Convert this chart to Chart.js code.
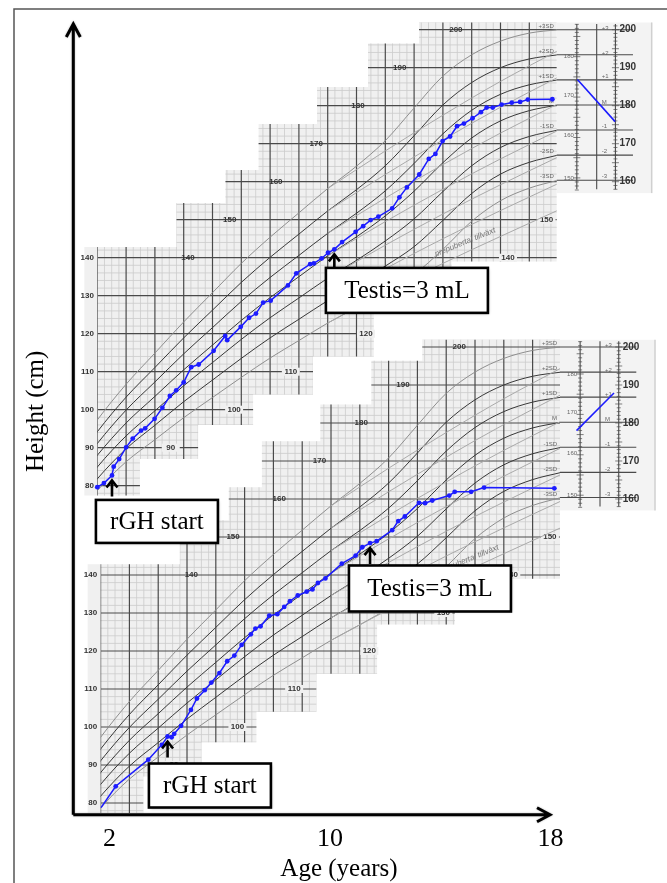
<!DOCTYPE html>
<html>
<head>
<meta charset="utf-8">
<script src="https://cdn.jsdelivr.net/npm/chart.js@4.4.1/dist/chart.umd.min.js"></script>
<style>
  html, body { margin: 0; padding: 0; background: #fff; }
  canvas { display: block; }
</style>
</head>
<body>
<canvas id="growth" width="667" height="883"></canvas>
<script>
// patient 1 (upper chart): age in years, height in cm
const upperAge = [2.00, 2.23, 2.51, 2.57, 2.76, 3.00, 3.23, 3.52, 3.66, 3.99, 4.26, 4.52, 4.74, 5.00, 5.26, 5.52,
  6.04, 6.44, 6.51, 6.98, 7.27, 7.51, 7.76, 8.02, 8.62, 8.91, 9.39, 9.52, 9.79, 10.01, 10.23, 10.50, 10.97,
  11.23, 11.49, 11.76, 12.24, 12.49, 12.75, 13.18, 13.51, 13.74, 13.99, 14.25, 14.49, 14.73, 15.03, 15.32,
  15.52, 15.73, 16.04, 16.39, 16.68, 16.95, 17.80];
const upperHeight = [79.6, 80.7, 82.7, 85.0, 87.0, 90.1, 92.4, 94.5, 95.1, 97.6, 100.5, 103.6, 105.1, 107.2, 111.2, 111.9,
  115.5, 119.4, 118.3, 121.8, 124.2, 125.3, 128.2, 128.7, 132.7, 135.9, 138.3, 138.5, 139.8, 141.3, 142.2, 144.1, 146.8,
  148.3, 149.9, 150.8, 153.0, 155.9, 158.5, 161.9, 166.0, 167.3, 170.7, 171.9, 174.6, 175.3, 176.7, 178.3,
  179.5, 179.5, 180.3, 180.8, 181.0, 181.6, 181.7];

// patient 2 (lower chart)
const lowerAge = [2.13, 2.64, 3.77, 4.24, 4.44, 4.58, 4.67, 4.91, 5.25, 5.46, 5.73, 5.96, 6.24, 6.51, 6.76, 7.01,
  7.33, 7.49, 7.67, 7.97, 8.25, 8.49, 8.69, 8.96, 9.27, 9.47, 9.66, 9.92, 10.49, 10.97, 11.20, 11.47, 11.70,
  12.24, 12.45, 12.68, 13.17, 13.38, 13.63, 14.22, 14.41, 14.98, 15.43, 17.87];
const lowerHeight = [78.8, 84.4, 91.4, 95.3, 97.5, 97.3, 98.2, 100.3, 104.5, 107.5, 109.7, 111.7, 114.2, 117.3, 118.8, 121.6,
  124.4, 125.9, 126.5, 129.3, 129.7, 131.6, 133.1, 134.6, 135.6, 136.2, 137.9, 139.1, 143.0, 145.1, 147.3, 148.4, 148.9,
  151.8, 154.2, 155.4, 159.0, 158.9, 159.6, 160.9, 161.9, 161.9, 163.0, 162.8];

// parental target lines in the side panels
const upperTargetAge = [18.67, 19.98];
const upperTargetHeight = [186.9, 175.8];
const lowerTargetAge = [18.64, 19.94];
const lowerTargetHeight = [178.0, 187.9];

// reference curves printed on the chart paper
const curveAge = [1.5, 2, 3, 4, 5, 6, 7, 8, 9, 10, 11, 12, 13, 14, 15, 16, 17, 18];
const sdPlus3  = [92.0, 97.3, 106.7, 114.9, 123.1, 130.8, 138.5, 145.4, 151.8, 158.2, 164.1, 170.8, 179.4, 187.8, 193.4, 197.0, 199.1, 200.0];
const sdPlus2  = [89.0, 94.2, 103.3, 111.1, 118.9, 126.2, 133.5, 140.1, 146.2, 152.3, 157.9, 164.2, 172.1, 180.2, 186.1, 190.0, 192.3, 193.4];
const sdPlus1  = [86.0, 91.1, 99.9, 107.3, 114.7, 121.6, 128.5, 134.8, 140.6, 146.4, 151.7, 157.6, 164.8, 172.6, 178.8, 183.0, 185.5, 186.8];
const sdMean   = [83.0, 88.0, 96.5, 103.5, 110.5, 117.0, 123.5, 129.5, 135.0, 140.5, 145.5, 151.0, 157.5, 165.0, 171.5, 176.0, 178.7, 180.2];
const sdMinus1 = [80.0, 84.9, 93.1, 99.7, 106.3, 112.4, 118.5, 124.2, 129.4, 134.6, 139.3, 144.4, 150.2, 157.4, 164.2, 169.0, 171.9, 173.6];
const sdMinus2 = [77.0, 81.8, 89.7, 95.9, 102.1, 107.8, 113.5, 118.9, 123.8, 128.7, 133.1, 137.8, 142.9, 149.8, 156.9, 162.0, 165.1, 167.0];
const sdMinus3 = [74.0, 78.7, 86.3, 92.1, 97.9, 103.2, 108.5, 113.6, 118.2, 122.8, 126.9, 131.2, 135.6, 142.2, 149.6, 155.0, 158.3, 160.4];
const sdLabels = ['+3SD', '+2SD', '+1SD', 'M', '-1SD', '-2SD', '-3SD'];

// prepubertal growth lines (light grey)
const preAge = [10, 12, 14, 16, 18];
const prePlus3  = [158.2, 168.1, 177.5, 186.4, 194.5];
const prePlus2  = [152.3, 161.9, 171.0, 179.6, 187.5];
const prePlus1  = [146.4, 155.7, 164.5, 172.8, 180.5];
const preMean   = [140.5, 149.5, 158.0, 166.0, 173.5];
const preMinus1 = [134.6, 143.3, 151.5, 159.2, 166.5];
const preMinus2 = [128.7, 137.1, 145.0, 152.4, 159.5];
const preMinus3 = [122.8, 130.9, 138.5, 145.6, 152.5];

// staircase outline of the chart paper (age, cm)
const sheetAge = [1.55, 1.55, 4.75, 4.75, 6.45, 6.45, 7.6, 7.6, 9.63, 9.63, 11.4, 11.4, 13.17, 13.17,
  17.95, 17.95, 14.3, 14.3, 11.6, 11.6, 9.49, 9.49, 7.41, 7.41, 5.5, 5.5, 3.48, 3.48];
const sheetHeight = [77.4, 142.8, 142.8, 154.4, 154.4, 163.1, 163.1, 175.2, 175.2, 184.9, 184.9, 196.4, 196.4, 201.9,
  201.9, 139, 139, 127, 127, 114, 114, 104, 104, 96, 96, 87, 87, 77.4];

// printed height labels on the paper
const leftLabels = [80, 90, 100, 110, 120, 130, 140];
const innerLabels = [140, 150, 160, 170, 180, 190, 200];
const innerLabelAge = [5.15, 6.6, 8.2, 9.6, 11.05, 12.5, 14.45];
const endLabels = [90, 100, 110, 120, 130, 140, 150];
const endLabelAge = [4.55, 6.75, 8.72, 11.33, 13.9, 16.26, 17.6];
const rightRulerLabels = [200, 190, 180, 170, 160];
const leftRulerLabels = [180, 170, 160, 150];
const leftRulerHeight = [192.9, 182.8, 172.1, 161.0];
const midLabels = ['+3', '+2', '+1', 'M', '-1', '-2', '-3'];
const midLabelHeight = [200.4, 193.8, 187.6, 180.9, 174.5, 167.9, 161.3];

const xTickLabels = [2, 10, 18];

// the lower chart is the same paper pasted lower down
const SHEETS = [{ dAge: 0, dH: 0 }, { dAge: 0.115, dH: -83.5 }];
const panelAge = [17.95, 21.25];
const panelH = [157, 201.9];
const rulerAge = [18.65, 19.34, 19.99];
const axisEndAge = 17.72;

const BLUE = '#1c1cff';
const PAPER = '#f0f0f0';
const MINOR = '#cbcbcb';
const MAJOR = '#4a4a4a';
const SERIF = '"Liberation Serif", "Times New Roman", serif';
const SANS = '"Liberation Sans", Arial, sans-serif';

const notes = [
  { series: 0, at: 2, text: 'rGH start', sheet: 0, boxAge: 4.07, boxH: 70.6, w: 122, h: 43 },
  { series: 0, at: 30, text: 'Testis=3 mL', sheet: 0, boxAge: 12.75, boxH: 131.4, w: 162, h: 45 },
  { series: 1, at: 4, text: 'rGH start', sheet: 1, boxAge: 5.91, boxH: 84.6, w: 122, h: 44 },
  { series: 1, at: 31, text: 'Testis=3 mL', sheet: 1, boxAge: 13.55, boxH: 136.45, w: 162, h: 46 },
];

function sheetPx(chart, s, age, h) {
  return [chart.scales.x.getPixelForValue(age + SHEETS[s].dAge),
          chart.scales.y.getPixelForValue(h + SHEETS[s].dH)];
}

function outline(chart, s, minAge) {
  const ctx = chart.ctx;
  ctx.beginPath();
  sheetAge.forEach((a, i) => {
    const p = sheetPx(chart, s, Math.max(a, minAge), sheetHeight[i]);
    if (i) ctx.lineTo(p[0], p[1]); else ctx.moveTo(p[0], p[1]);
  });
  ctx.closePath();
}

function drawSheet(chart, s) {
  const ctx = chart.ctx;
  const P = (a, h) => sheetPx(chart, s, a, h);
  const seg = (a0, h0, a1, h1) => {
    const p = P(a0, h0), q = P(a1, h1);
    ctx.moveTo(p[0], p[1]); ctx.lineTo(q[0], q[1]);
  };
  ctx.save();
  ctx.fillStyle = PAPER;
  outline(chart, s, 0);
  ctx.fill();
  const pa = P(panelAge[0], panelH[1]), pb = P(panelAge[1], panelH[0]);
  ctx.fillStyle = '#f3f3f3';
  ctx.fillRect(pa[0], pa[1], pb[0] - pa[0], pb[1] - pa[1]);
  ctx.strokeStyle = '#d0d0d0';
  ctx.lineWidth = 1.5;
  ctx.beginPath(); ctx.moveTo(pb[0], pa[1]); ctx.lineTo(pb[0], pb[1]); ctx.stroke();

  // grid, only on the paper
  ctx.save();
  outline(chart, s, 2);
  ctx.clip();
  ctx.beginPath();
  ctx.strokeStyle = MINOR;
  ctx.lineWidth = 0.8;
  for (let q = 8; q < 72; q++) if (q % 4) seg(q / 4, 70, q / 4, 205);
  for (let h = 72; h < 205; h += 2) if (h % 10) seg(1, h, 19, h);
  ctx.stroke();
  ctx.beginPath();
  ctx.strokeStyle = MAJOR;
  ctx.lineWidth = 1.2;
  for (let a = 2; a <= 18; a++) seg(a, 70, a, 205);
  for (let h = 80; h <= 200; h += 10) seg(1, h, 19, h);
  ctx.stroke();
  ctx.restore();

  // side panel: SD levels and the parental rulers
  const ends = [sdPlus3, sdPlus2, sdPlus1, sdMean, sdMinus1, sdMinus2, sdMinus3].map(c => c[c.length - 1]);
  ctx.beginPath();
  ctx.strokeStyle = MAJOR;
  ctx.lineWidth = 1.1;
  ends.forEach(v => seg(panelAge[0], v, 20.6, v));
  rulerAge.forEach(a => seg(a, 158, a, 201.5));
  ctx.stroke();
  ctx.beginPath();
  ctx.lineWidth = 0.7;
  for (let h = 158; h <= 201; h++) {
    const p = P(rulerAge[2], h), t = h % 5 ? 2 : 3.5;
    ctx.moveTo(p[0] - t, p[1]); ctx.lineTo(p[0] + t, p[1]);
  }
  const step = (leftRulerHeight[0] - leftRulerHeight[3]) / 30;
  for (let v = 147; v <= 188; v++) {
    const p = P(rulerAge[0], leftRulerHeight[3] + (v - 150) * step), t = v % 5 ? 2 : 3.5;
    ctx.moveTo(p[0] - t, p[1]); ctx.lineTo(p[0] + t, p[1]);
  }
  ctx.stroke();

  // printed labels
  ctx.fillStyle = '#333';
  ctx.textBaseline = 'middle';
  ctx.font = 'bold 8px ' + SANS;
  ctx.textAlign = 'right';
  leftLabels.forEach(h => { const p = P(1.88, h); ctx.fillText(String(h), p[0], p[1]); });
  ctx.textAlign = 'center';
  innerLabels.forEach((h, i) => { const p = P(innerLabelAge[i], h); ctx.fillText(String(h), p[0], p[1]); });
  endLabels.forEach((h, i) => {
    const p = P(endLabelAge[i], h);
    ctx.fillStyle = PAPER; ctx.fillRect(p[0] - 9, p[1] - 4, 18, 8);
    ctx.fillStyle = '#333'; ctx.fillText(String(h), p[0], p[1]);
  });
  ctx.font = 'bold 10px ' + SANS;
  ctx.textAlign = 'left';
  rightRulerLabels.forEach(h => { const p = P(rulerAge[2], h); ctx.fillText(String(h), p[0] + 4, p[1]); });
  ctx.font = '6px ' + SANS;
  ctx.fillStyle = '#666';
  ctx.textAlign = 'right';
  leftRulerLabels.forEach((v, i) => { const p = P(rulerAge[0], leftRulerHeight[i]); ctx.fillText(String(v), p[0] - 3, p[1]); });
  ends.forEach((v, i) => { const p = P(17.85, v + 0.9); ctx.fillText(sdLabels[i], p[0], p[1]); });
  ctx.textAlign = 'left';
  midLabels.forEach((t, i) => { const p = P(rulerAge[1], midLabelHeight[i]); ctx.fillText(t, p[0] + 5, p[1]); });
  const pt = P(14.77, 144.1);
  ctx.translate(pt[0], pt[1]);
  ctx.rotate(-0.39);
  ctx.font = 'italic 8px ' + SANS;
  ctx.textAlign = 'center';
  ctx.fillStyle = '#777';
  ctx.fillText('prepubertal tillväxt', 0, 0);
  ctx.restore();
}

function drawAxes(chart) {
  const ctx = chart.ctx;
  const { left, top, bottom } = chart.chartArea;
  const xEnd = chart.scales.x.getPixelForValue(axisEndAge);
  const yEnd = top + 16;
  ctx.save();
  ctx.strokeStyle = '#000';
  ctx.lineWidth = 3;
  ctx.shadowColor = 'rgba(0,0,0,0.3)';
  ctx.shadowBlur = 2;
  ctx.beginPath();
  ctx.moveTo(left, bottom); ctx.lineTo(left, yEnd);
  ctx.moveTo(left, bottom); ctx.lineTo(xEnd, bottom);
  ctx.moveTo(left - 7, yEnd + 13); ctx.lineTo(left, yEnd); ctx.lineTo(left + 7, yEnd + 13);
  ctx.moveTo(xEnd - 13, bottom - 7); ctx.lineTo(xEnd, bottom); ctx.lineTo(xEnd - 13, bottom + 7);
  ctx.stroke();
  ctx.restore();
}

function drawNotes(chart) {
  const ctx = chart.ctx;
  ctx.save();
  notes.forEach(n => {
    const pt = chart.getDatasetMeta(n.series).data[n.at];
    const tip = pt.y + 5;
    ctx.strokeStyle = '#000';
    ctx.lineWidth = 2.6;
    ctx.beginPath();
    ctx.moveTo(pt.x, tip); ctx.lineTo(pt.x, tip + 16);
    ctx.moveTo(pt.x - 5.5, tip + 7); ctx.lineTo(pt.x, tip); ctx.lineTo(pt.x + 5.5, tip + 7);
    ctx.stroke();

    const cx = chart.scales.x.getPixelForValue(n.boxAge);
    const cy = chart.scales.y.getPixelForValue(n.boxH + SHEETS[n.sheet].dH);
    ctx.save();
    ctx.shadowColor = 'rgba(0,0,0,0.35)';
    ctx.shadowBlur = 3;
    ctx.shadowOffsetX = 1;
    ctx.shadowOffsetY = 1;
    ctx.fillStyle = '#fff';
    ctx.fillRect(cx - n.w / 2, cy - n.h / 2, n.w, n.h);
    ctx.restore();
    ctx.lineWidth = 2.6;
    ctx.strokeRect(cx - n.w / 2, cy - n.h / 2, n.w, n.h);
    ctx.fillStyle = '#000';
    ctx.font = '25px ' + SERIF;
    ctx.textAlign = 'center';
    ctx.textBaseline = 'middle';
    ctx.fillText(n.text, cx, cy + 1);
  });
  ctx.restore();
}

const sheetPlugin = {
  id: 'sheets',
  beforeDraw(chart) {
    const ctx = chart.ctx;
    ctx.save();
    ctx.strokeStyle = '#555';
    ctx.lineWidth = 1.5;
    ctx.beginPath();
    ctx.moveTo(14, chart.height); ctx.lineTo(14, 9); ctx.lineTo(chart.width, 9);
    ctx.stroke();
    ctx.restore();
  },
  beforeDatasetsDraw(chart) {
    drawSheet(chart, 0);
    drawSheet(chart, 1);
  },
  beforeDatasetDraw(chart, args) {
    const ds = chart.data.datasets[args.index];
    if (ds.sheet === undefined) return;
    chart.ctx.save();
    outline(chart, ds.sheet, 2);
    chart.ctx.clip();
  },
  afterDatasetDraw(chart, args) {
    if (chart.data.datasets[args.index].sheet !== undefined) chart.ctx.restore();
  },
  afterDatasetsDraw(chart) {
    drawAxes(chart);
    drawNotes(chart);
  }
};

const pairs = (xs, ys, dH) => xs.map((a, i) => ({ x: a, y: ys[i] + dH }));

const datasets = [
  {
    data: pairs(upperAge, upperHeight, 0),
    borderColor: BLUE, backgroundColor: BLUE, borderWidth: 1.5,
    pointRadius: 2.4, pointBorderWidth: 0, pointBackgroundColor: BLUE
  },
  {
    data: pairs(lowerAge, lowerHeight, SHEETS[1].dH),
    borderColor: BLUE, backgroundColor: BLUE, borderWidth: 1.5,
    pointRadius: lowerAge.map((a, i) => (i === 0 ? 0 : 2.4)), pointBorderWidth: 0, pointBackgroundColor: BLUE
  },
  { data: pairs(upperTargetAge, upperTargetHeight, 0), borderColor: BLUE, borderWidth: 1.6, pointRadius: 0 },
  { data: pairs(lowerTargetAge, lowerTargetHeight, SHEETS[1].dH), borderColor: BLUE, borderWidth: 1.6, pointRadius: 0 }
];

const sdCurves = [sdPlus3, sdPlus2, sdPlus1, sdMean, sdMinus1, sdMinus2, sdMinus3];
const preCurves = [prePlus3, prePlus2, prePlus1, preMean, preMinus1, preMinus2, preMinus3];
[0, 1].forEach(s => {
  const shift = SHEETS[s];
  preCurves.forEach(vals => datasets.push({
    data: preAge.map((a, i) => ({ x: a + shift.dAge, y: vals[i] + shift.dH })),
    borderColor: '#a9a9a9', borderWidth: 1, pointRadius: 0,
    cubicInterpolationMode: 'monotone', sheet: s
  }));
  sdCurves.forEach((vals, k) => datasets.push({
    data: curveAge.map((a, i) => ({ x: a + shift.dAge, y: vals[i] + shift.dH })),
    borderColor: (k === 0 || k === 6) ? '#8e8e8e' : '#383838', borderWidth: 1, pointRadius: 0,
    cubicInterpolationMode: 'monotone', sheet: s
  }));
});
datasets.forEach(d => { d.clip = false; });

new Chart(document.getElementById('growth'), {
  type: 'line',
  data: { datasets },
  options: {
    responsive: false,
    animation: false,
    events: [],
    layout: { padding: { top: 8, right: 62.3, left: 0, bottom: 0 } },
    plugins: { legend: { display: false }, tooltip: { enabled: false } },
    scales: {
      x: { type: 'linear', display: false, min: 1.1667, max: 19.618 },
      xAge: {
        type: 'linear', position: 'bottom', min: 0.686, max: 19.967,
        grid: { display: false, drawTicks: false },
        border: { display: false },
        afterBuildTicks: scale => { scale.ticks = xTickLabels.map(v => ({ value: v })); },
        afterFit: scale => { scale.height = 68.3; },
        ticks: { padding: 9, color: '#000', font: { family: SERIF, size: 26 } },
        title: { display: true, text: 'Age (years)', color: '#000', font: { family: SERIF, size: 25 }, padding: { top: 0, bottom: -1 } }
      },
      y: {
        type: 'linear', min: -6.58, max: 205.71,
        grid: { display: false, drawTicks: false },
        border: { display: false },
        ticks: { display: false },
        afterFit: scale => { scale.width = 73.3; },
        title: { display: true, text: 'Height (cm)', color: '#000', font: { family: SERIF, size: 25 }, padding: { top: 21, bottom: 0 } }
      }
    }
  },
  plugins: [sheetPlugin]
});
</script>
</body>
</html>
